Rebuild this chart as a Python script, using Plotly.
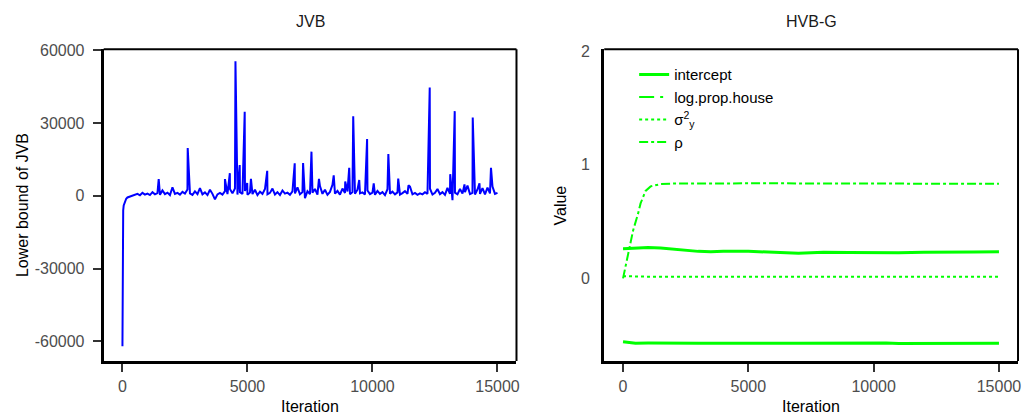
import plotly.graph_objects as go

W, H = 1027, 419

# ---------------- JVB data (left panel) ----------------
jvb_early_iter = [0, 5, 10, 20, 30, 50, 75, 100, 150, 200, 300, 400]
jvb_early_val = [-62000, -19000, -12000, -9000, -6000, -4000, -3000, -2000, -1200, -700, -300, 0]

jvb_base_iter = list(range(500, 15001, 100))
jvb_base_val = [
    300, 800, 200, 1200, 500, 900, 300, 1500, 600, 1100,
    400, 2200, 700, 1300, 300, 3500, 800, 1200, 500, 1600,
    900, 2600, 1000, 400, 1800, 700, 3200, 600, 1400, 300,
    2500, 800, -1500, 600, 1200, 500, 1900, 700, 2800, 1000,
    3000, 500, 1500, 800, 2000, 400, 1300, 700, 2500, 300,
    1700, 800, 2800, 600, 1200, 3000, 500, 1500, 300, 2200,
    900, 1300, 400, 1800, 1000, 3500, 600, 1500, -1000, 1900,
    700, 1300, 2800, 500, 4000, 800, 2500, 400, 1600, 4500,
    900, 2000, 500, 3000, 1200, 1800, 600, 1500, 800, 2500,
    1000, 1400, 500, 2200, 700, 1300, 400, 2000, 800, 1500,
    300, 2700, 900, 1700, 600, 1400, 500, 1100, 1900, 800,
    3800, 600, 1200, 400, 1000, 600, 1500, 800, 2900, 500,
    1200, 2800, 700, 1500, 400, 3300, 800, -1800, 1300, 600,
    2800, 900, 1500, 4200, 700, 1200, 500, 2600, 800, 3200,
    600, 3400, 1000, 3800, 800, 1200,
]

jvb_spike_iter = [1450, 2610, 4100, 4295, 4520, 4690, 4890, 4990, 5140, 5790,
                  6890, 7225, 7560, 7860, 8450, 8910, 9070, 9230, 9470, 9785,
                  10050, 10635, 11030, 11440, 12290, 13110, 13290, 13680, 14010,
                  14280, 14740]
jvb_spike_val = [6900, 19700, 6900, 9300, 55500, 12700, 34600, 5300, 7000, 10300,
                 13400, 13500, 18200, 7000, 8400, 5900, 11500, 32800, 6500, 23400,
                 5100, 17200, 7100, 4300, 44600, 8900, 34900, 4700, 32300,
                 5200, 11500]

pairs = sorted(zip(jvb_early_iter + jvb_base_iter + jvb_spike_iter,
                   jvb_early_val + jvb_base_val + jvb_spike_val))
jvb_x = [p[0] for p in pairs]
jvb_y = [p[1] for p in pairs]

# ---------------- HVB-G data (right panel) ----------------
flat_iter = [0, 500, 1000, 1500, 2000, 2500, 3000, 3500, 4000, 5000, 6000, 7000,
             7500, 8000, 9000, 10000, 10500, 11000, 12000, 13000, 14000, 15000]
intercept_val = [0.262, 0.265, 0.272, 0.268, 0.257, 0.245, 0.238, 0.235, 0.240,
                 0.238, 0.232, 0.222, 0.226, 0.230, 0.229, 0.227, 0.221, 0.225,
                 0.230, 0.229, 0.233, 0.234]
logprop_val = [-0.557, -0.570, -0.569, -0.571, -0.570, -0.569, -0.571, -0.570,
               -0.569, -0.570, -0.571, -0.570, -0.569, -0.570, -0.571, -0.570,
               -0.569, -0.572, -0.570, -0.570, -0.569, -0.570]
sigma_val = [0.02, 0.015, 0.015, 0.015, 0.015, 0.015, 0.015, 0.015, 0.015, 0.015,
             0.015, 0.015, 0.015, 0.015, 0.015, 0.015, 0.015, 0.015, 0.015, 0.015,
             0.015, 0.015]

rho_iter = [0, 200, 400, 600, 700, 900, 1100, 1500, 2000, 3000, 4000, 5000, 6000,
            7000, 8000, 9000, 10000, 11000, 12000, 13000, 14000, 15000]
rho_val = [0.0, 0.2, 0.42, 0.57, 0.66, 0.77, 0.81, 0.83, 0.835, 0.835, 0.838,
           0.84, 0.838, 0.836, 0.835, 0.836, 0.835, 0.834, 0.836, 0.835, 0.834, 0.833]

GREEN = "#00FF00"
BLUE = "#0000FF"
FONT = "Liberation Sans, Arial, sans-serif"

fig = go.Figure()
fig.add_trace(go.Scatter(x=jvb_x, y=jvb_y, mode="lines",
                         line=dict(color=BLUE, width=2), showlegend=False,
                         xaxis="x", yaxis="y"))

fig.add_trace(go.Scatter(x=flat_iter, y=intercept_val, mode="lines", name="intercept",
                         line=dict(color=GREEN, width=3), xaxis="x2", yaxis="y2"))
fig.add_trace(go.Scatter(x=flat_iter, y=logprop_val, mode="lines", name="log.prop.house",
                         line=dict(color=GREEN, width=3), xaxis="x2", yaxis="y2",
                         showlegend=False, legendgroup="lph"))
fig.add_trace(go.Scatter(x=[None], y=[None], mode="lines", name="log.prop.house",
                         line=dict(color=GREEN, width=2, dash="longdashdot"),
                         xaxis="x2", yaxis="y2", legendgroup="lph"))
fig.add_trace(go.Scatter(x=flat_iter, y=sigma_val, mode="lines",
                         name="σ<sup>2</sup><sub>y</sub>",
                         line=dict(color=GREEN, width=2, dash="dot"), xaxis="x2", yaxis="y2"))
fig.add_trace(go.Scatter(x=rho_iter, y=rho_val, mode="lines", name="ρ",
                         line=dict(color=GREEN, width=2, dash="dashdot"), xaxis="x2", yaxis="y2"))

x0L, x1L = 104 / W, 518 / W
x0R, x1R = 606 / W, 1021 / W
yd = [1 - 360 / H, 1 - 43 / H]

tickfont = dict(family=FONT, size=16, color="#4d4d4d")
common_x = dict(range=[-750, 15760], tickvals=[0, 5000, 10000, 15000],
                ticktext=["0", "5000", "10000", "15000"],
                showgrid=False, zeroline=False, showline=True, linewidth=3,
                linecolor="black", ticks="outside", ticklen=8, tickwidth=2,
                tickcolor="#333333", tickfont=tickfont, ticklabelstandoff=1)

fig.update_layout(
    width=W, height=H, autosize=False,
    margin=dict(l=0, r=0, t=0, b=0),
    paper_bgcolor="white", plot_bgcolor="white",
    font=dict(family=FONT, size=16, color="black"),
    xaxis=dict(domain=[x0L, x1L], anchor="y", **common_x),
    yaxis=dict(domain=yd, anchor="x", range=[-68100, 60400],
               tickvals=[-60000, -30000, 0, 30000, 60000],
               ticktext=["-60000", "-30000", "0", "30000", "60000"],
               showgrid=False, zeroline=False, showline=True, linewidth=3,
               linecolor="black", ticks="outside", ticklen=8, tickwidth=2,
               tickcolor="#333333", tickfont=tickfont, ticklabelstandoff=5),
    xaxis2=dict(domain=[x0R, x1R], anchor="y2", **common_x),
    yaxis2=dict(domain=yd, anchor="x2", range=[-0.727, 2.017],
                tickvals=[0, 1, 2], ticktext=["0", "1", "2"],
                showgrid=False, zeroline=False, showline=True, linewidth=3,
                linecolor="black", ticks="", ticklabelstandoff=8, tickfont=tickfont),
    legend=dict(x=636 / W, y=1 - 52 / H, xanchor="left", yanchor="top",
                bgcolor="rgba(0,0,0,0)", font=dict(family=FONT, size=15, color="black"),
                tracegroupgap=0),
    shapes=[
        dict(type="line", xref="x domain", yref="y domain", x0=0, x1=1, y0=1, y1=1,
             line=dict(color="black", width=2)),
        dict(type="line", xref="x domain", yref="y domain", x0=1, x1=1, y0=0, y1=1,
             line=dict(color="black", width=2)),
        dict(type="line", xref="x2 domain", yref="y2 domain", x0=0, x1=1, y0=1, y1=1,
             line=dict(color="black", width=2)),
        dict(type="line", xref="x2 domain", yref="y2 domain", x0=1, x1=1, y0=0, y1=1,
             line=dict(color="black", width=2)),
    ],
    annotations=[
        dict(text="JVB", x=(x0L + x1L) / 2, y=1 - 15 / H, xref="paper", yref="paper",
             xanchor="center", yanchor="middle",
             showarrow=False, font=dict(size=16, color="#1a1a1a")),
        dict(text="HVB-G", x=(x0R + x1R) / 2, y=1 - 15 / H, xref="paper", yref="paper",
             xanchor="center", yanchor="middle",
             showarrow=False, font=dict(size=16, color="#1a1a1a")),
        dict(text="Iteration", x=(x0L + x1L) / 2, y=1 - 406 / H, xref="paper", yref="paper",
             xanchor="center", yanchor="middle",
             showarrow=False, font=dict(size=16, color="black")),
        dict(text="Iteration", x=(x0R + x1R) / 2, y=1 - 406 / H, xref="paper", yref="paper",
             xanchor="center", yanchor="middle",
             showarrow=False, font=dict(size=16, color="black")),
        dict(text="Lower bound of JVB", x=22 / W, y=(yd[0] + yd[1]) / 2, xref="paper",
             yref="paper", xanchor="center", yanchor="middle",
             showarrow=False, textangle=-90, font=dict(size=16, color="black")),
        dict(text="Value", x=562 / W, y=(yd[0] + yd[1]) / 2, xref="paper",
             yref="paper", xanchor="center", yanchor="middle",
             showarrow=False, textangle=-90, font=dict(size=16, color="black")),
    ],
)

fig.write_html("out.html")
